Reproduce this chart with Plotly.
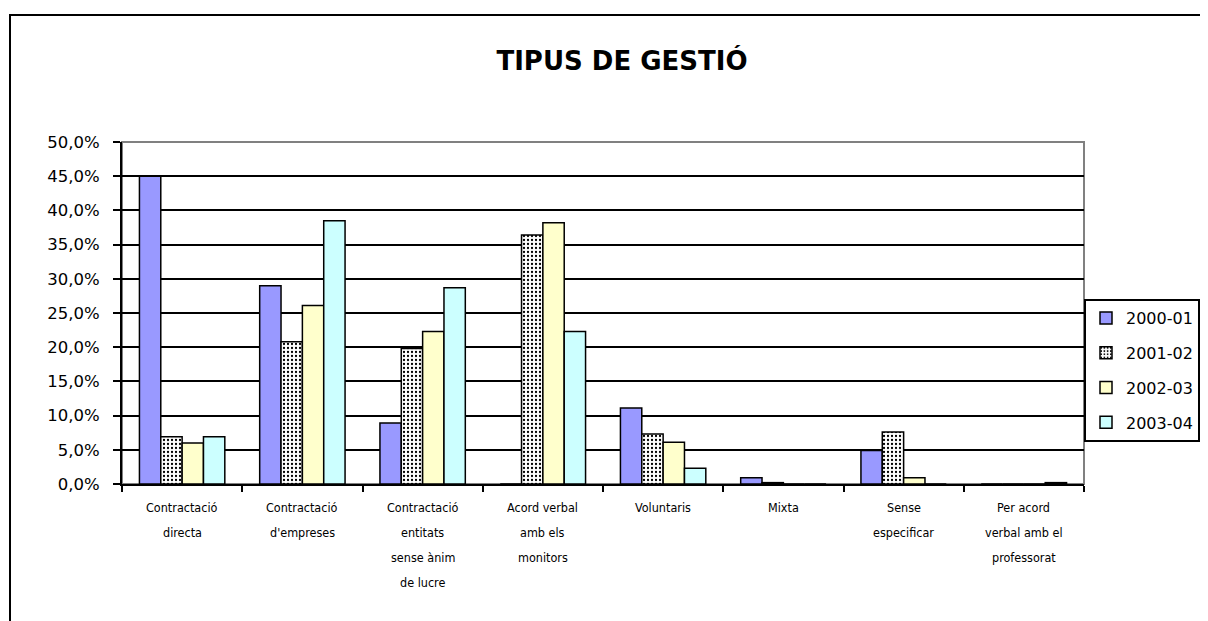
import plotly.graph_objects as go

categories = [
    "Contractació\ndirecta",
    "Contractació\nd'empreses",
    "Contractació\nentitats\nsense ànim\nde lucre",
    "Acord verbal\namb els\nmonitors",
    "Voluntaris",
    "Mixta",
    "Sense\nespecificar",
    "Per acord\nverbal amb el\nprofessorat",
]
series_names = ["2000-01", "2001-02", "2002-03", "2003-04"]
v_2000_01 = [45.0, 29.0, 8.9, 0.0, 11.1, 0.9, 4.9, 0.0]
v_2001_02 = [6.9, 20.8, 19.8, 36.4, 7.3, 0.2, 7.6, 0.0]
v_2002_03 = [6.0, 26.1, 22.3, 38.2, 6.1, 0.0, 0.9, 0.0]
v_2003_04 = [6.9, 38.5, 28.7, 22.3, 2.3, 0.0, 0.0, 0.2]
title_text = "TIPUS DE GESTIÓ"

x_keys = [c.replace("\n", " ") for c in categories]
values = [v_2000_01, v_2001_02, v_2002_03, v_2003_04]
colors = ["#9999FF", "#FFFFFF", "#FFFFCC", "#CCFFFF"]

# the page body has an 8px margin; the figure is sized to fill the rest
OFF = 8
W, H = 1208 - OFF, 621 - OFF
PL, PR, PT, PB = 122, 1084, 142, 484  # plot area in page pixels

fig = go.Figure()
for i, (name, vals) in enumerate(zip(series_names, values)):
    marker = dict(color=colors[i], line=dict(color="black", width=1.5))
    if i == 1:
        marker["pattern"] = dict(shape=".", fgcolor="black", bgcolor="white",
                                 size=4, solidity=0.25, fillmode="replace")
    fig.add_trace(go.Bar(x=x_keys, y=vals, name=name, marker=marker,
                         legendgroup=name))

# crossing y ticks (inside part)
fig.add_trace(go.Scatter(x=[x_keys[0]], y=[None], yaxis="y2", showlegend=False,
                         hoverinfo="skip"))

label_font = dict(family="DejaVu Sans Condensed, Liberation Sans Narrow, sans-serif",
                  size=12.5, color="black")
annotations = []
for key, cat in zip(x_keys, categories):
    for j, line in enumerate(cat.split("\n")):
        annotations.append(dict(x=key, xref="x", y=0, yref="paper", text=line,
                                showarrow=False, yanchor="middle",
                                yshift=-(23 + 25 * j), font=label_font))

fig.update_layout(
    width=W, height=H,
    margin=dict(l=PL - OFF, r=1208 - PR, t=PT - OFF, b=621 - PB, autoexpand=False),
    paper_bgcolor="white", plot_bgcolor="white",
    separators=",.",
    barmode="group", bargap=0.29, bargroupgap=0,
    title=dict(text=f"<b>{title_text}</b>", x=(622 - OFF) / W, xref="container",
               xanchor="center", y=1 - (61 - OFF) / H, yref="container", yanchor="middle",
               font=dict(family="DejaVu Sans", size=26, color="black")),
    xaxis=dict(type="category", tickson="boundaries", ticks="outside", ticklen=6,
               tickwidth=2, tickcolor="black", showticklabels=False,
               showline=True, linecolor="black", linewidth=2, showgrid=False,
               zeroline=False),
    yaxis=dict(range=[0, 50], dtick=5, tick0=0, tickformat=".1f", ticksuffix="%",
               ticks="outside", ticklen=7, tickwidth=2, tickcolor="black",
               ticklabelstandoff=10,
               tickfont=dict(family="DejaVu Sans", size=16.5, color="black"),
               showline=True, linecolor="black", linewidth=2,
               showgrid=True, gridcolor="black", gridwidth=2, zeroline=False),
    yaxis2=dict(range=[0, 50], dtick=5, tick0=0, overlaying="y", side="left",
                ticks="inside", ticklen=8, tickwidth=2, tickcolor="black",
                showticklabels=False, showgrid=False, showline=False, zeroline=False),
    legend=dict(x=(1084 - PL) / (PR - PL), xanchor="left",
                y=(PB - 299) / (PB - PT), yanchor="top",
                bgcolor="white", bordercolor="black", borderwidth=2,
                font=dict(family="DejaVu Sans", size=16, color="black"),
                tracegroupgap=11, traceorder="grouped"),
    annotations=annotations,
    showlegend=True,
    shapes=[
        dict(type="rect", xref="paper", yref="paper", x0=0, x1=1, y0=0, y1=1,
             line=dict(color="#808080", width=2), layer="below"),
        dict(type="rect", xref="paper", yref="paper",
             x0=(10 - PL) / (PR - PL), x1=1.3,
             y0=-0.6, y1=(PB - 15) / (PB - PT), line=dict(color="black", width=2),
             layer="below"),
    ],
)

fig.write_html("out.html")
